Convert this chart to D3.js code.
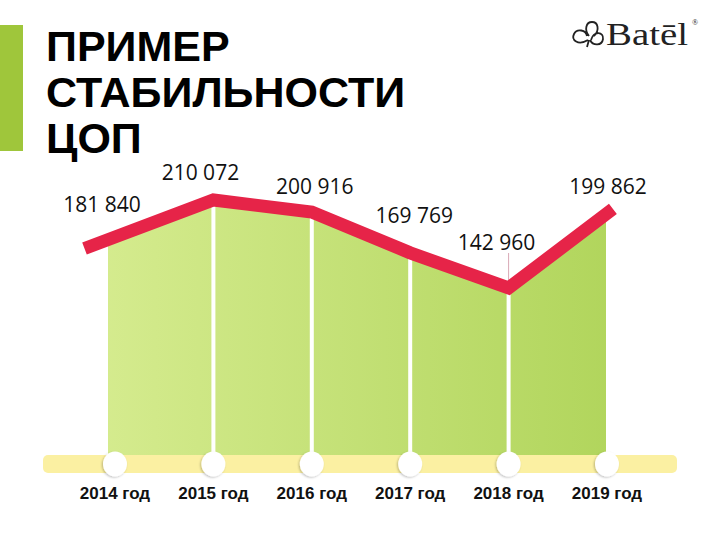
<!DOCTYPE html>
<html><head><meta charset="utf-8">
<script src="https://cdn.jsdelivr.net/npm/d3@7/dist/d3.min.js"></script>
<style>html,body{margin:0;padding:0;background:#fff;}svg{display:block;}</style>
</head><body>
<svg id="chart" width="720" height="540"></svg>
<script>
// ---- data ----
const titleLines = ["ПРИМЕР", "СТАБИЛЬНОСТИ", "ЦОП"];
const years = ["2014 год", "2015 год", "2016 год", "2017 год", "2018 год", "2019 год"];
const values = [181840, 210072, 200916, 169769, 142960, 199862];
const valueLabels = ["181 840", "210 072", "200 916", "169 769", "142 960", "199 862"];

// ---- layout (not data) ----
const labelDx = [-13, -13, 3, 4, -12, 1];
const labelDy = [-25, -20, -18, -30, -38, -19];

const svg = d3.select("#chart");
const defs = svg.append("defs");

const grad = defs.append("linearGradient").attr("id", "gGreen")
  .attr("x1", "0%").attr("x2", "100%").attr("y1", "0%").attr("y2", "0%");
grad.append("stop").attr("offset", "0%").attr("stop-color", "#d6ec90");
grad.append("stop").attr("offset", "100%").attr("stop-color", "#b1d55c");

const sh = defs.append("filter").attr("id", "shadow").attr("x", "-50%").attr("y", "-50%").attr("width", "200%").attr("height", "200%");
sh.append("feDropShadow").attr("dx", -1).attr("dy", 1).attr("stdDeviation", 1.2).attr("flood-color", "#000").attr("flood-opacity", 0.25);

// ---- title block ----
svg.append("rect").attr("x", 0).attr("y", 25).attr("width", 23).attr("height", 126).attr("fill", "#9fc63b");
svg.append("g").selectAll("text").data(titleLines).join("text")
  .attr("x", 46).attr("y", (d, i) => 61 + i * 46)
  .attr("font-family", "'Liberation Sans', Arial, sans-serif")
  .attr("font-weight", "bold").attr("font-size", 43).attr("fill", "#000")
  .text(d => d);

// ---- logo ----
const logo = svg.append("g").attr("fill", "none").attr("stroke", "#222").attr("stroke-width", 1.8);
logo.append("path").attr("d",
  "M588,40 C578,46 571,40 574,34 C577,28 586,30 587,36 " +
  "M589,36 C584,30 586,22 592,22 C598,22 600,30 594,36 " +
  "M591,40 C594,30 604,32 603,39 C602,46 593,46 590,40 " +
  "M589,40 L587,47");
svg.append("text").attr("x", 606).attr("y", 45)
  .attr("font-family", "'Liberation Serif', 'DejaVu Serif', serif")
  .attr("font-size", 31).attr("fill", "#222")
  .attr("textLength", 82).attr("lengthAdjust", "spacingAndGlyphs")
  .text("Batēl");
svg.append("text").attr("x", 692).attr("y", 25)
  .attr("font-family", "'Liberation Serif', serif").attr("font-size", 8).attr("fill", "#222")
  .text("®");

// ---- scales ----
const x = d3.scalePoint().domain(years).range([115, 607]);
const y = d3.scaleLinear().domain([142960, 210072]).range([288, 200]);

const pts = years.map((yr, i) => [x(yr), y(values[i])]);
const n = pts.length;
const extL = 0.31, extR = 0.06;
const p0 = [pts[0][0] + (pts[0][0] - pts[1][0]) * extL, pts[0][1] + (pts[0][1] - pts[1][1]) * extL];
const pN = [pts[n-1][0] + (pts[n-1][0] - pts[n-2][0]) * extR, pts[n-1][1] + (pts[n-1][1] - pts[n-2][1]) * extR];
const linePts = [p0, ...pts, pN];

const bandTop = 455, bandH = 18;

// ---- green area ----
defs.append("clipPath").attr("id", "areaClip").append("rect")
  .attr("x", x(years[0]) - 7).attr("y", 0)
  .attr("width", x(years[n-1]) - x(years[0]) + 6).attr("height", bandTop);
const area = d3.area().x(d => d[0]).y0(bandTop).y1(d => d[1]);
svg.append("path").attr("d", area(linePts)).attr("fill", "url(#gGreen)").attr("clip-path", "url(#areaClip)");

// separators
svg.append("g").selectAll("line").data(pts.slice(1, n - 1)).join("line")
  .attr("x1", d => d[0]).attr("x2", d => d[0]).attr("y1", d => d[1]).attr("y2", bandTop)
  .attr("stroke", "#fff").attr("stroke-width", 4);

// thin guide for 2018
svg.append("line").attr("x1", pts[4][0]).attr("x2", pts[4][0])
  .attr("y1", pts[4][1] + labelDy[4] + 3).attr("y2", pts[4][1])
  .attr("stroke", "#d9a8b6").attr("stroke-width", 1);

// ---- band ----
svg.append("rect").attr("x", 43).attr("y", bandTop).attr("width", 634).attr("height", bandH)
  .attr("rx", 5).attr("fill", "#fbf0a2");

// circles
svg.append("g").selectAll("ellipse").data(years).join("ellipse")
  .attr("cx", d => x(d)).attr("cy", bandTop + 9).attr("rx", 12).attr("ry", 12.5)
  .attr("fill", "#fff").attr("filter", "url(#shadow)");

// ---- red line ----
svg.append("path").attr("d", d3.line()(linePts))
  .attr("fill", "none").attr("stroke", "#e62448").attr("stroke-width", 13)
  .attr("stroke-linejoin", "miter").attr("stroke-linecap", "butt");

// value labels
svg.append("g").selectAll("text").data(valueLabels).join("text")
  .attr("x", (d, i) => pts[i][0] + labelDx[i])
  .attr("y", (d, i) => pts[i][1] + labelDy[i])
  .attr("text-anchor", "middle")
  .attr("font-family", "'Open Sans', 'Noto Sans', sans-serif")
  .attr("font-size", 21).attr("fill", "#111")
  .text(d => d);

// year labels
svg.append("g").selectAll("text").data(years).join("text")
  .attr("x", d => x(d)).attr("y", 499)
  .attr("text-anchor", "middle")
  .attr("font-family", "'Liberation Sans', Arial, sans-serif")
  .attr("font-weight", "bold").attr("font-size", 17).attr("fill", "#111")
  .text(d => d);
</script>
</body></html>
